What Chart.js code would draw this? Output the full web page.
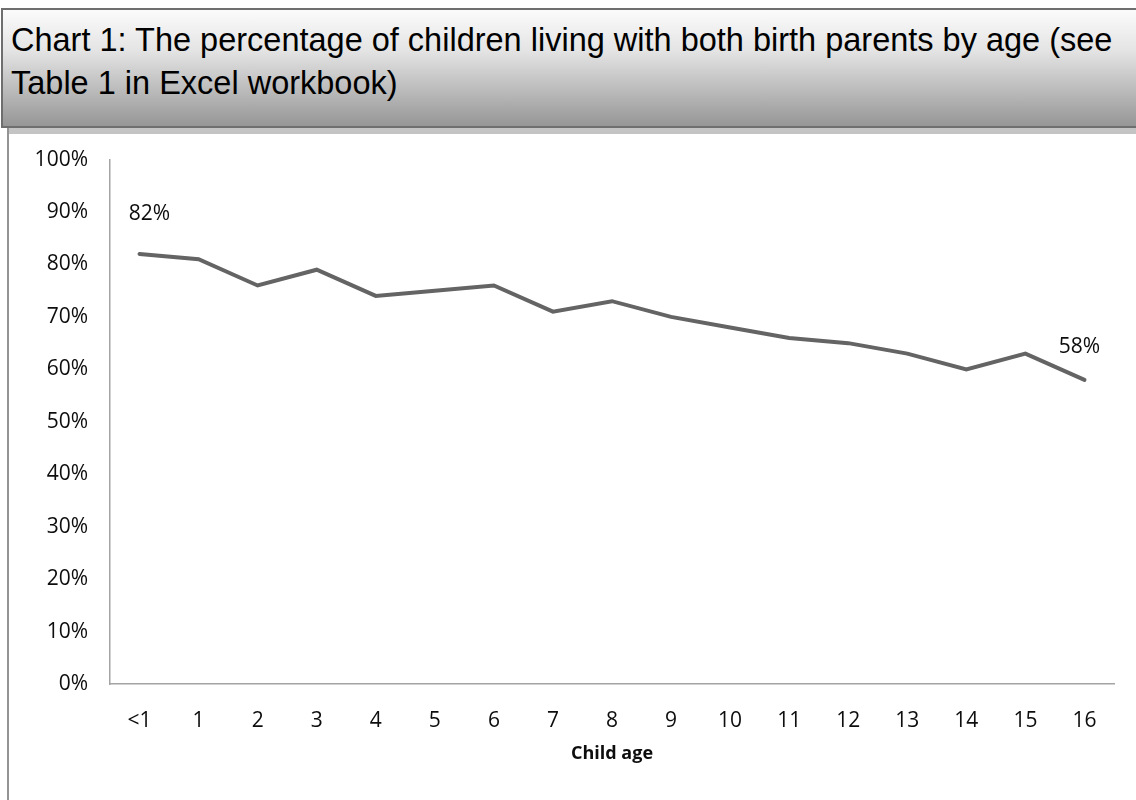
<!DOCTYPE html>
<html>
<head>
<meta charset="utf-8">
<title>Children living with both birth parents by age</title>
<script src="https://cdn.jsdelivr.net/npm/chart.js@4/dist/chart.umd.min.js"></script>
<style>
  html, body { margin: 0; padding: 0; background: #fff; }
  body { width: 1136px; height: 800px; overflow: hidden; position: relative; }
  #header {
    position: absolute; left: 1px; top: 8px; width: 1200px; height: 120px;
    box-sizing: border-box; border: 2px solid #6e6e6e;
    background: linear-gradient(to bottom, #fbfbfb 0%, #e4e4e4 35%, #969696 100%);
  }
  #header h1 {
    margin: 0; position: absolute; left: 8px; top: 9px; width: 1130px;
    font-family: "Liberation Sans", Arial, sans-serif; font-weight: normal;
    font-size: 32.5px; line-height: 43px; color: #000; white-space: nowrap;
  }
  #shadow { position: absolute; left: 9px; top: 128px; width: 1200px; height: 6px; background: #c4c4c4; }
  #panel { position: absolute; left: 7px; top: 128px; width: 2px; height: 672px; background: #949494; }
  #chartBox { position: absolute; left: 0; top: 125px; width: 1136px; height: 675px; }
  #chart { display: block; }
</style>
</head>
<body>
<div id="header"><h1>Chart 1: The percentage of children living with both birth parents by age (see<br>Table 1 in Excel workbook)</h1></div>
<div id="shadow"></div>
<div id="panel"></div>
<div id="chartBox"><canvas id="chart" width="1136" height="675"></canvas></div>
<script>
// Child age categories along the x axis
const ageLabels = ['<1', '1', '2', '3', '4', '5', '6', '7', '8', '9', '10', '11', '12', '13', '14', '15', '16'];
// Percentage of children living with both birth parents, per age
const pctBothParents = [82, 81, 76, 79, 74, 75, 76, 71, 73, 70, 68, 66, 65, 63, 60, 63, 58];
// Points whose value is written on the chart
const labelledPoints = [0, 16];
const axisTitle = 'Child age';

const tickFont = { family: '"Open Sans", sans-serif', size: 21 };

// Writes the value above selected points of the line
const valueLabels = {
  id: 'valueLabels',
  afterDatasetsDraw(chart, args, opts) {
    const meta = chart.getDatasetMeta(0);
    const values = chart.data.datasets[0].data;
    const ctx = chart.ctx;
    ctx.save();
    ctx.font = '21px "Open Sans", sans-serif';
    ctx.fillStyle = '#0d0d0d';
    ctx.textAlign = 'center';
    ctx.textBaseline = 'middle';
    opts.points.forEach((index, i) => {
      const pt = meta.data[index];
      const off = opts.offsets[i];
      ctx.fillText(values[index] + '%', pt.x + off[0], pt.y + off[1]);
    });
    ctx.restore();
  }
};

new Chart(document.getElementById('chart'), {
  type: 'line',
  data: {
    labels: ageLabels,
    datasets: [{
      data: pctBothParents,
      borderColor: '#646464',
      borderWidth: 4,
      borderCapStyle: 'round',
      pointRadius: 0,
      tension: 0,
      fill: false
    }]
  },
  options: {
    responsive: false,
    animation: false,
    layout: { padding: { left: 0, right: 22, top: 2, bottom: 33 } },
    plugins: {
      legend: { display: false },
      tooltip: { enabled: false },
      valueLabels: { points: labelledPoints, offsets: [[10, -40], [-5, -33]] }
    },
    scales: {
      x: {
        offset: true,
        grid: { display: false, drawTicks: false },
        border: { display: true, color: '#a4a4a4', width: 1.5 },
        ticks: { color: '#0d0d0d', font: tickFont, padding: 24, maxRotation: 0, autoSkip: false },
        title: {
          display: true, text: axisTitle, color: '#0d0d0d',
          font: { family: '"Open Sans", sans-serif', size: 18, weight: 'bold' },
          padding: { top: 13, bottom: 2 }
        },
        afterFit(scale) { scale.height = 83; }
      },
      y: {
        min: 0, max: 100,
        grid: { display: false, drawTicks: false },
        border: { display: true, color: '#a4a4a4', width: 1.5 },
        ticks: { stepSize: 10, color: '#0d0d0d', font: tickFont, padding: 22, callback: v => v + '%' },
        afterFit(scale) { scale.width = 110; }
      }
    }
  },
  plugins: [valueLabels]
});
</script>
</body>
</html>
